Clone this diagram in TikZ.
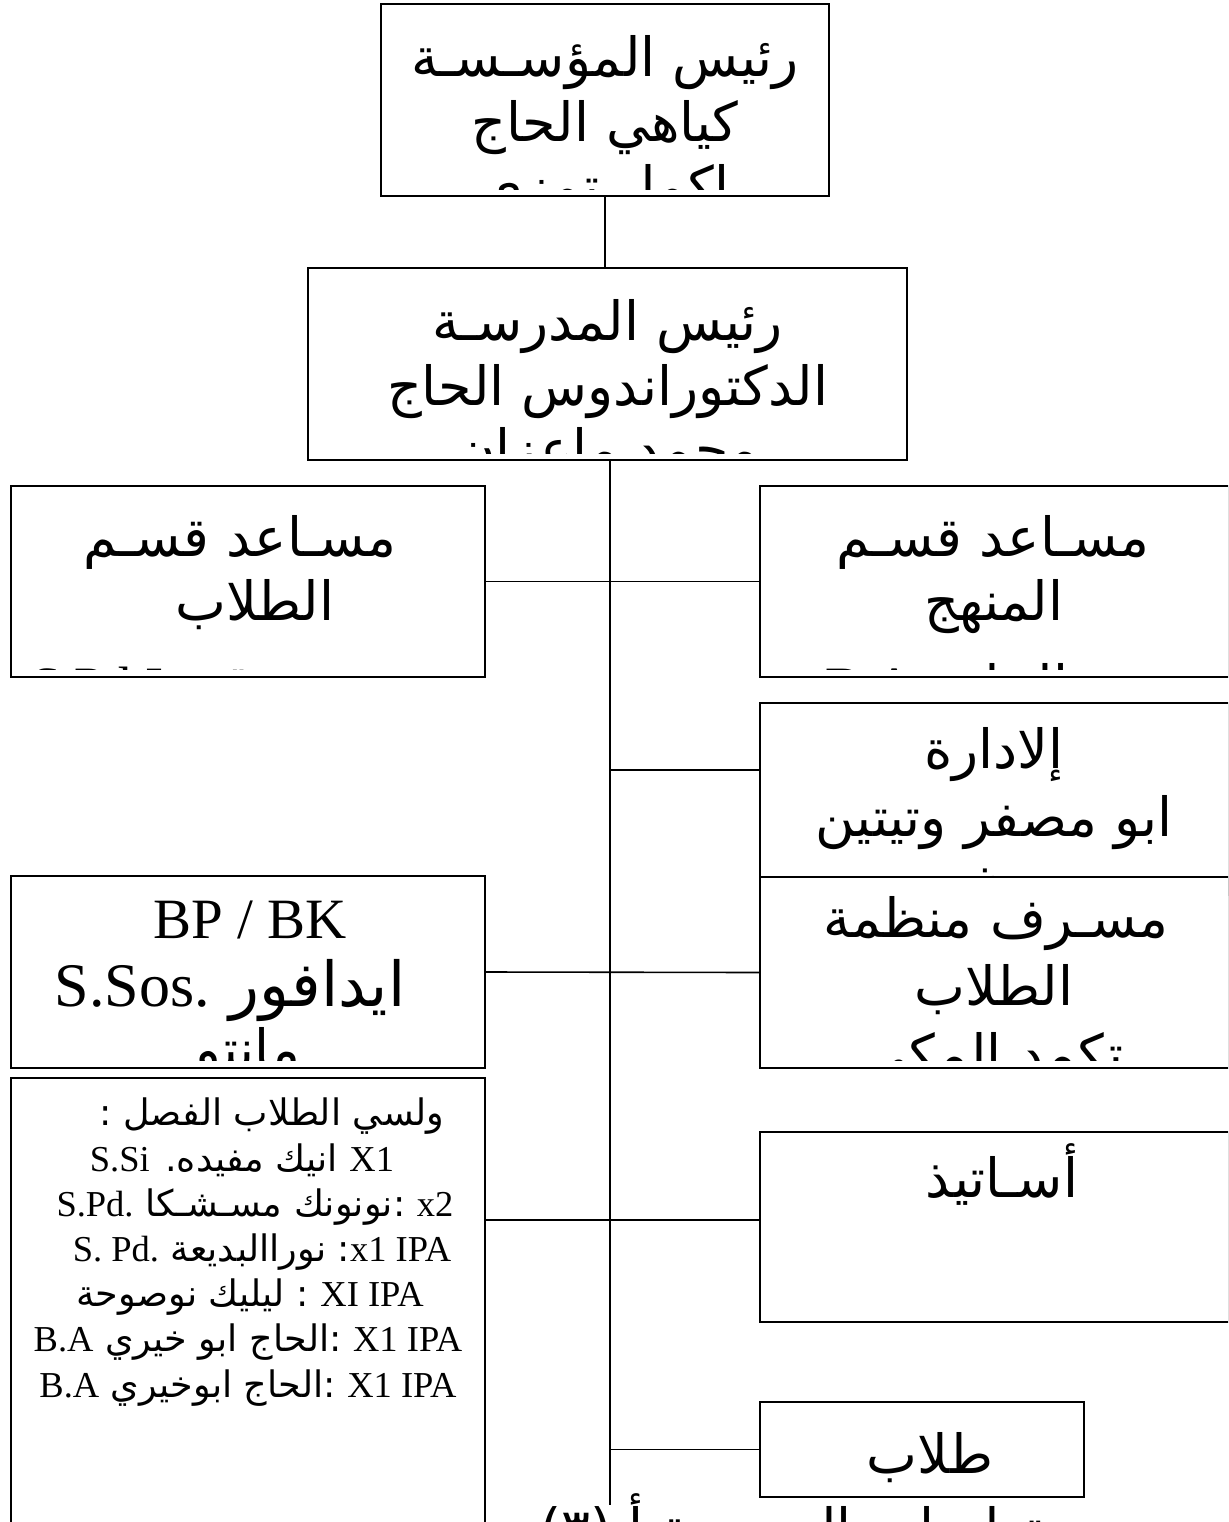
\documentclass[tikz,border=0pt]{standalone}
\usepackage{fontspec}
\setmainfont{Liberation Serif}
\newfontfamily\ar[Script=Arabic]{DejaVu Sans}
\TeXXeTstate=1
\newcommand{\AR}[1]{{\ar\beginR #1\endR}}
\newcommand{\LT}[1]{\beginL{\rmfamily #1}\endL}
\tikzset{
 box/.style={draw, line width=1.8pt, fill=white, inner sep=0pt},
 conn/.style={line width=1.6pt},
 tline/.style={inner sep=0pt, anchor=base},
 bigf/.style={font=\fontsize{54}{64}\selectfont},
 latf/.style={font=\fontsize{57}{64}\selectfont},
 midf/.style={font=\fontsize{62}{70}\selectfont},
 smallf/.style={font=\fontsize{36.5}{44}\selectfont},
}
\begin{document}
\begin{tikzpicture}[x=1pt,y=-1pt]
\useasboundingbox (0,0) rectangle (1228,1522);
\clip (0,0) rectangle (1228,1522);

% top: head of foundation
\node[box, minimum width=448pt, minimum height=192pt] (ceo) at (605,100) {};
\begin{scope}
\clip ([yshift=7pt]ceo.south west) rectangle (ceo.north east);
\node[tline,bigf] (ceoA) at (605,77) {\AR{رئيس المؤسـسـة}};
\node[tline,bigf] (ceoB) at (605,142) {\AR{كياهي الحاج}};
\node[tline,bigf] (ceoC) at (605,206) {\AR{اكمل تمزي}};
\end{scope}

% head of school
\node[box, minimum width=599pt, minimum height=192pt] (head) at (607.5,364) {};
\begin{scope}
\clip ([yshift=7pt]head.south west) rectangle (head.north east);
\node[tline,bigf] (headA) at (607.5,340) {\AR{رئيس المدرسـة}};
\node[tline,bigf] (headB) at (607.5,405) {\AR{الدكتوراندوس الحاج}};
\node[tline,bigf] (headC) at (607.5,468) {\AR{محمد ماعزان}};
\end{scope}

% left box 1
\node[box, minimum width=474pt, minimum height=191pt] (lb1) at (248,581.5) {};
\begin{scope}
\clip ([yshift=8pt]lb1.south west) rectangle (lb1.north east);
\node[tline,bigf] (lb1A) at (240,556) {\AR{مسـاعد قسـم}};
\node[tline,bigf] (lb1B) at (255,620) {\AR{الطلاب}};
\node[tline,bigf] (lb1C) at (248,704) {\AR{محمد سوقي \LT{S.Pd.I}}};
\end{scope}

% right box 1
\node[box, minimum width=469pt, minimum height=191pt] (rb1) at (994.5,581.5) {};
\begin{scope}
\clip ([yshift=8pt]rb1.south west) rectangle (rb1.north east);
\node[tline,bigf] (rb1A) at (993,556) {\AR{مسـاعد قسـم}};
\node[tline,bigf] (rb1B) at (994,620) {\AR{المنهج}};
\node[tline,bigf] (rb1C) at (994,704) {\AR{عبد الحليم \LT{B.A}}};
\end{scope}

% right box 2
\node[box, minimum width=469pt, minimum height=192pt] (rb2) at (994.5,799) {};
\begin{scope}
\clip ([yshift=8pt]rb2.south west) rectangle (rb2.north east);
\node[tline,bigf] (rb2A) at (994,768) {\AR{إلادارة}};
\node[tline,bigf] (rb2B) at (994,836) {\AR{ابو مصفر وتيتين}};
\node[tline,bigf] (rb2C) at (994,904) {\AR{سوغيتو}};
\end{scope}

% right box 3
\node[box, minimum width=469pt, minimum height=191pt] (rb3) at (994.5,972.5) {};
\begin{scope}
\clip ([yshift=8pt]rb3.south west) rectangle (rb3.north east);
\node[tline,bigf] (rb3A) at (996,937) {\AR{مسـرف منظمة}};
\node[tline,bigf] (rb3B) at (994,1005) {\AR{الطلاب}};
\node[tline,bigf] (rb3C) at (994,1073) {\AR{تكمد المكي}};
\end{scope}

% left box 2
\node[box, minimum width=474pt, minimum height=192pt] (lb2) at (248,972) {};
\begin{scope}
\clip ([yshift=8pt]lb2.south west) rectangle (lb2.north east);
\node[tline,latf] (lb2A) at (250,938) {BP / BK};
\node[tline,midf] (lb2B) at (230,1006) {\AR{ايدافور \LT{S.Sos.}}};
\node[tline,bigf] (lb2C) at (248,1068) {\AR{مانتو}};
\end{scope}

% left box 3 (class teachers)
\node[box, minimum width=474pt, minimum height=462pt] (lb3) at (248,1309) {};
\node[tline,smallf] (l1) at (272,1125) {\AR{ولسي الطلاب الفصل :}};
\node[tline,smallf] (l2) at (242,1171) {\AR{\LT{X1} انيك مفيده.  \LT{S.Si}}};
\node[tline,smallf] (l3) at (255,1216) {\AR{\LT{x2} :نونونك مسـشـكا  \LT{S.Pd.}}};
\node[tline,smallf] (l4) at (262,1261) {\AR{\LT{x1 IPA}: نوراالبديعة \LT{S. Pd.}}};
\node[tline,smallf] (l5) at (250,1306) {\AR{\LT{XI IPA} : ليليك نوصوحة}};
\node[tline,smallf] (l6) at (248,1351) {\AR{\LT{X1 IPA} :الحاج ابو خيري \LT{B.A}}};
\node[tline,smallf] (l7) at (248,1397) {\AR{\LT{X1 IPA} :الحاج ابوخيري  \LT{B.A}}};

% right box 4 teachers
\node[box, minimum width=469pt, minimum height=190pt] (rb4) at (994.5,1227) {};
\node[tline,bigf] (rb4A) at (1002,1197) {\AR{أسـاتيذ}};

% students
\node[box, minimum width=324pt, minimum height=95pt] (tl) at (922,1449.5) {};
\node[tline,bigf] (tlA) at (930,1473) {\AR{طلاب}};

% footer text (cut by page edge)
\node[tline,bigf,anchor=base west] (foot) at (540,1547) {\AR{تعليمات المدرسة أ (٣)}};

% connectors
\coordinate (spTop) at (610,460);
\coordinate (spBot) at (610,1505);
\draw[conn] (ceo.south) -- (ceo.south |- head.north);
\draw[conn] (spTop) -- (spBot);
\draw[conn] (lb1.east) -- (rb1.west);
\draw[conn] (rb2.west |- 0,770) -- (spTop |- 0,770);
\draw[conn] (lb2.east) -- (rb3.west);
\draw[conn] (lb3.east |- 0,1220) -- (rb4.west |- 0,1220);
\draw[conn] (tl.west) -- (tl.west -| spTop);
\end{tikzpicture}
\end{document}
